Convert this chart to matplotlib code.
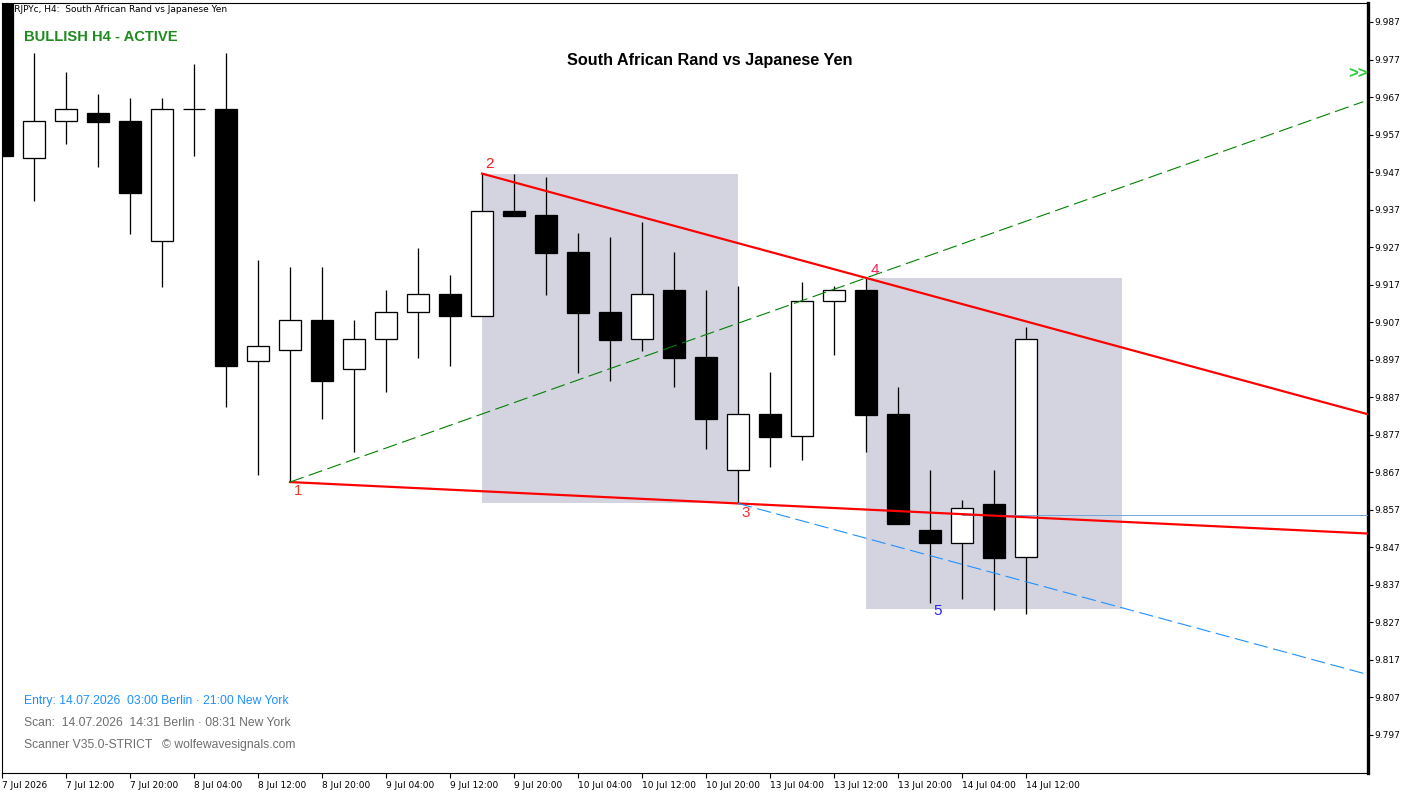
import numpy as np
import matplotlib
matplotlib.use("Agg")
import matplotlib.pyplot as plt
from matplotlib.patches import Rectangle

# ---------------- data ----------------
bars = list(range(33))
opens = [9.9935, 9.9507, 9.9605, 9.9628, 9.9606, 9.9286, 9.9637, 9.9637, 9.8966, 9.8995,
         9.9075, 9.8945, 9.9025, 9.9096, 9.9144, 9.9086, 9.9366, 9.9355, 9.9256, 9.9096,
         9.9025, 9.9156, 9.8977, 9.8675, 9.8825, 9.8766, 9.9126, 9.9156, 9.8825, 9.8516,
         9.8482, 9.8585, 9.8444]
highs = [9.9960, 9.9787, 9.9737, 9.9678, 9.9667, 9.9667, 9.9758, 9.9787, 9.9236, 9.9217,
         9.9217, 9.9076, 9.9156, 9.9267, 9.9196, 9.9466, 9.9466, 9.9457, 9.9308, 9.9297,
         9.9337, 9.9257, 9.9156, 9.9167, 9.8937, 9.9177, 9.9167, 9.9188, 9.8897, 9.8676,
         9.8596, 9.8676, 9.9057]
lows = [9.9513, 9.9394, 9.9546, 9.9484, 9.9306, 9.9165, 9.9514, 9.8845, 9.8664, 9.8644,
        9.8813, 9.8725, 9.8885, 9.8975, 9.8954, 9.9086, 9.9354, 9.9143, 9.8935, 9.8914,
        9.8994, 9.8896, 9.8733, 9.8587, 9.8685, 9.8704, 9.8983, 9.8725, 9.8533, 9.8323,
        9.8333, 9.8303, 9.8292]
closes = [9.9513, 9.9606, 9.9637, 9.9604, 9.9415, 9.9637, 9.9637, 9.8954, 9.9007, 9.9075,
          9.8914, 9.9025, 9.9096, 9.9144, 9.9086, 9.9366, 9.9354, 9.9255, 9.9095, 9.9023,
          9.9144, 9.8975, 9.8813, 9.8825, 9.8765, 9.9126, 9.9155, 9.8824, 9.8533, 9.8482,
          9.8574, 9.8442, 9.9025]

wave_labels = ["1", "2", "3", "4", "5"]
wave_bars = [9, 15, 23, 27, 29]
wave_prices = [9.8644, 9.9466, 9.8587, 9.9188, 9.8323]

zone1_bars = [15, 23]
zone1_prices = [9.8587, 9.9466]
zone2_bars = [27, 35]
zone2_prices = [9.8305, 9.9188]

price_line = 9.8556
price_line_start = 30

ytick_values = [round(9.797 + 0.01 * i, 3) for i in range(20)]
xtick_bars = list(range(0, 33, 2))
xtick_labels = ["7 Jul 2026", "7 Jul 12:00", "7 Jul 20:00", "8 Jul 04:00", "8 Jul 12:00",
                "8 Jul 20:00", "9 Jul 04:00", "9 Jul 12:00", "9 Jul 20:00", "10 Jul 04:00",
                "10 Jul 12:00", "10 Jul 20:00", "13 Jul 04:00", "13 Jul 12:00",
                "13 Jul 20:00", "14 Jul 04:00", "14 Jul 12:00"]

# ---------------- figure ----------------
W, H = 1413, 794
fig = plt.figure(figsize=(W / 100, H / 100), dpi=100)
fig.patch.set_facecolor("white")
ax = fig.add_axes([2 / W, 21 / H, 1366 / W, 770 / H])
x_max = 1366 / 32
ax.set_xlim(0, x_max)
ax.set_ylim(9.78687, 9.99206)

px = 0.72  # one pixel in points

# zones
for (b0, b1), (p0, p1) in [(zone1_bars, zone1_prices), (zone2_bars, zone2_prices)]:
    ax.add_patch(Rectangle((b0, p0), b1 - b0, p1 - p0, facecolor="#d4d4e1",
                           edgecolor="none", zorder=1))

# candles
bw = 0.69
for b, o, h, l, c in zip(bars, opens, highs, lows, closes):
    ax.plot([b, b], [l, h], color="black", lw=1.3 * px, zorder=3, solid_capstyle="butt")
    lo, hi = min(o, c), max(o, c)
    fc = "white" if c >= o else "black"
    ax.add_patch(Rectangle((b - bw / 2, lo), bw, hi - lo, facecolor=fc,
                           edgecolor="black", lw=1.3 * px, zorder=4))

# lines
def line_vals(b0, p0, b1, p1, xs):
    s = (p1 - p0) / (b1 - b0)
    return [p0 + s * (x - b0) for x in xs]

xe = x_max
ax.plot([wave_bars[0], xe], line_vals(wave_bars[0], wave_prices[0], wave_bars[2], wave_prices[2],
                                      [wave_bars[0], xe]), color="#ff0000", lw=2.2 * px, zorder=6)
ax.plot([wave_bars[1], xe], line_vals(wave_bars[1], wave_prices[1], wave_bars[3], wave_prices[3],
                                      [wave_bars[1], xe]), color="#ff0000", lw=2.2 * px, zorder=6)
xg = xe - 0.15
ax.plot([wave_bars[0], xg], line_vals(wave_bars[0], wave_prices[0], wave_bars[3], wave_prices[3],
                                      [wave_bars[0], xg]), color="#008000", lw=1.1 * px,
        dashes=(13, 5), zorder=6)
s24 = (wave_prices[3] - wave_prices[1]) / (wave_bars[3] - wave_bars[1])
ax.plot([wave_bars[2], xe], [wave_prices[2], wave_prices[2] + s24 * (xe - wave_bars[2])],
        color="#1e90ff", lw=1.1 * px, dashes=(13, 5), zorder=6)
ax.plot([price_line_start, xe], [price_line, price_line], color="#6aa0d8", lw=0.9 * px, zorder=5)

# wave labels
label_colors = ["#e8401c", "#ff1a1a", "#ff2a2a", "#ff2255", "#2222ff"]
label_offsets = [(8, -9), (8, 10), (8, -10), (9, 8), (8, -8)]
for lab, b, p, col, off in zip(wave_labels, wave_bars, wave_prices, label_colors, label_offsets):
    ax.annotate(lab, (b, p), xytext=off, textcoords="offset pixels", ha="center",
                va="center", color=col, fontsize=11, family="Liberation Sans", zorder=7)

# axes styling
ax.yaxis.tick_right()
ax.set_yticks(ytick_values)
ax.set_yticklabels([f"{v:.3f}" for v in ytick_values], fontsize=6.5, family="DejaVu Sans")
ax.set_xticks(xtick_bars)
ax.set_xticklabels(xtick_labels, fontsize=6.5, family="DejaVu Sans", ha="left")
ax.tick_params(axis="y", direction="out", length=3.5, width=0.8, pad=1.0)
ax.tick_params(axis="x", direction="out", length=3.5, width=0.8, pad=2)
ax.spines["right"].set_linewidth(2.4)
for s in ["left", "top", "bottom"]:
    ax.spines[s].set_linewidth(0.8)
ax.set_facecolor("white")

# texts
def ftext(x, y, s, **kw):
    fig.text(x / W, 1 - y / H, s, **kw)

ftext(2, 9, "ZARJPYc, H4:  South African Rand vs Japanese Yen", fontsize=6.5,
      family="DejaVu Sans", va="center", ha="left", color="black", zorder=0)
ftext(24, 37, "BULLISH H4 - ACTIVE", fontsize=10.6, family="Liberation Sans",
      weight="bold", color="#1f8a1f", va="center", ha="left")
ftext(710, 61, "South African Rand vs Japanese Yen", fontsize=11.7, family="Liberation Sans",
      weight="bold", color="black", va="center", ha="center")
ftext(1368, 74, ">>", fontsize=12, family="Liberation Sans", weight="bold",
      color="#2ecc40", va="center", ha="right")
ftext(24, 701, "Entry: 14.07.2026  03:00 Berlin \u00b7 21:00 New York", fontsize=8.7,
      family="Liberation Sans", color="#1e90ff", va="center", ha="left")
ftext(24, 723, "Scan:  14.07.2026  14:31 Berlin \u00b7 08:31 New York", fontsize=8.7,
      family="Liberation Sans", color="#6e6e6e", va="center", ha="left")
ftext(24, 745, "Scanner V35.0-STRICT   \u00a9 wolfewavesignals.com", fontsize=8.7,
      family="Liberation Sans", color="#6e6e6e", va="center", ha="left")

fig.savefig("out.png", dpi=100)
